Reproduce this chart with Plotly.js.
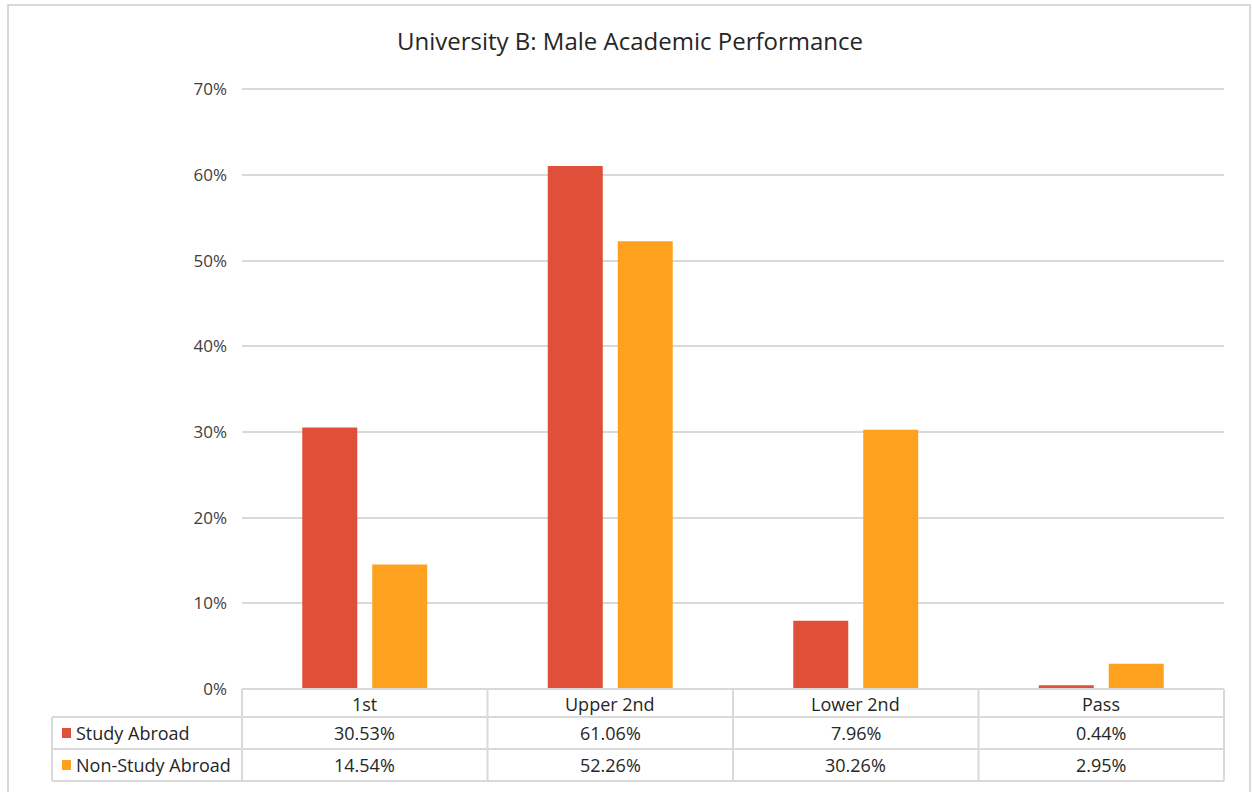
<!DOCTYPE html>
<html>
<head>
<meta charset="utf-8">
<script src="https://cdn.plot.ly/plotly-3.0.1.min.js"></script>
<style>html,body{margin:0;padding:0;background:#fff;}#chart{width:1252px;height:792px;}</style>
</head>
<body>
<div id="chart"></div>
<script>
const categories = ["1st", "Upper 2nd", "Lower 2nd", "Pass"];
const seriesNames = ["Study Abroad", "Non-Study Abroad"];
const studyAbroad = [30.53, 61.06, 7.96, 0.44];
const nonStudyAbroad = [14.54, 52.26, 30.26, 2.95];
const seriesColors = ["#E04F39", "#FEA11E"];

const W = 1252, H = 792;
const L = 242, R = 28, T = 88, B = 103;
const PW = W - L - R, PH = H - T - B;
const px = v => (v - L) / PW;
const py = v => (H - B - v) / PH;

const seriesValues = [studyAbroad, nonStudyAbroad];
const traces = seriesValues.map((vals, i) => ({
  type: "bar",
  name: seriesNames[i],
  x: categories,
  y: vals.map(v => v / 100),
  marker: {color: seriesColors[i]},
  hoverinfo: "x+y+name"
}));

const font = "Open Sans, Lato, sans-serif";
const gridC = "#d9d9d9";
const shapes = [];
const annotations = [];

// outer chart border
shapes.push({type: "rect", xref: "paper", yref: "paper", x0: px(8), x1: px(1250), y0: py(800), y1: py(5), line: {color: gridC, width: 2}, fillcolor: "rgba(0,0,0,0)", layer: "below"});

// table geometry
const rowTops = [689, 717, 749, 781];
const colLeft = 52;
const n = categories.length;
shapes.push({type: "line", xref: "paper", yref: "paper", x0: 0, x1: 1, y0: py(rowTops[0]), y1: py(rowTops[0]), line: {color: gridC, width: 2}});
for (let r = 1; r < rowTops.length; r++) {
  shapes.push({type: "line", xref: "paper", yref: "paper", x0: px(colLeft), x1: 1, y0: py(rowTops[r]), y1: py(rowTops[r]), line: {color: gridC, width: 2}});
}
for (let c = 0; c <= n; c++) {
  shapes.push({type: "line", xref: "paper", yref: "paper", x0: c / n, x1: c / n, y0: py(rowTops[0]), y1: py(rowTops[3]), line: {color: gridC, width: 2}});
}
shapes.push({type: "line", xref: "paper", yref: "paper", x0: px(colLeft), x1: px(colLeft), y0: py(rowTops[1]), y1: py(rowTops[3]), line: {color: gridC, width: 2}});

const tFont = {family: font, size: 18, color: "#262626"};
categories.forEach((c, i) => {
  annotations.push({xref: "paper", yref: "paper", x: (i + 0.5) / n, y: py((rowTops[0] + rowTops[1]) / 2 + 1), text: c, showarrow: false, font: tFont, xanchor: "center", yanchor: "middle"});
});
seriesValues.forEach((vals, r) => {
  const yc = py((rowTops[r + 1] + rowTops[r + 2]) / 2);
  shapes.push({type: "rect", xref: "paper", yref: "paper", x0: px(62), x1: px(71), y0: yc - 5 / PH, y1: yc + 5 / PH, fillcolor: seriesColors[r], line: {width: 0}});
  annotations.push({xref: "paper", yref: "paper", x: px(74), y: yc, text: seriesNames[r], showarrow: false, font: tFont, xanchor: "left", yanchor: "middle"});
  vals.forEach((v, i) => {
    annotations.push({xref: "paper", yref: "paper", x: (i + 0.5) / n, y: yc, text: v.toFixed(2) + "%", showarrow: false, font: tFont, xanchor: "center", yanchor: "middle"});
  });
});

const layout = {
  width: W, height: H,
  margin: {l: L, r: R, t: T, b: B, pad: 0},
  paper_bgcolor: "#ffffff",
  plot_bgcolor: "#ffffff",
  showlegend: false,
  barmode: "group",
  bargap: 0.43,
  bargroupgap: 0.214,
  title: {text: "University B: Male Academic Performance", x: px(630), xref: "paper", xanchor: "center", y: 1 - 42 / H, yanchor: "middle", font: {family: font, size: 24, color: "#262626"}},
  xaxis: {range: [-0.5, 3.5], showticklabels: false, showgrid: false, zeroline: false, showline: false, ticks: "", fixedrange: true},
  yaxis: {range: [0, 0.7015], tick0: 0, dtick: 0.1, tickformat: ".0%", showgrid: true, gridcolor: gridC, gridwidth: 2, zeroline: false, showline: false, ticks: "", ticklabelstandoff: 14, tickfont: {family: font, size: 17, color: "#404040"}, fixedrange: true},
  shapes: shapes,
  annotations: annotations,
  font: {family: font}
};

Plotly.newPlot("chart", traces, layout, {displayModeBar: false});
</script>
</body>
</html>
